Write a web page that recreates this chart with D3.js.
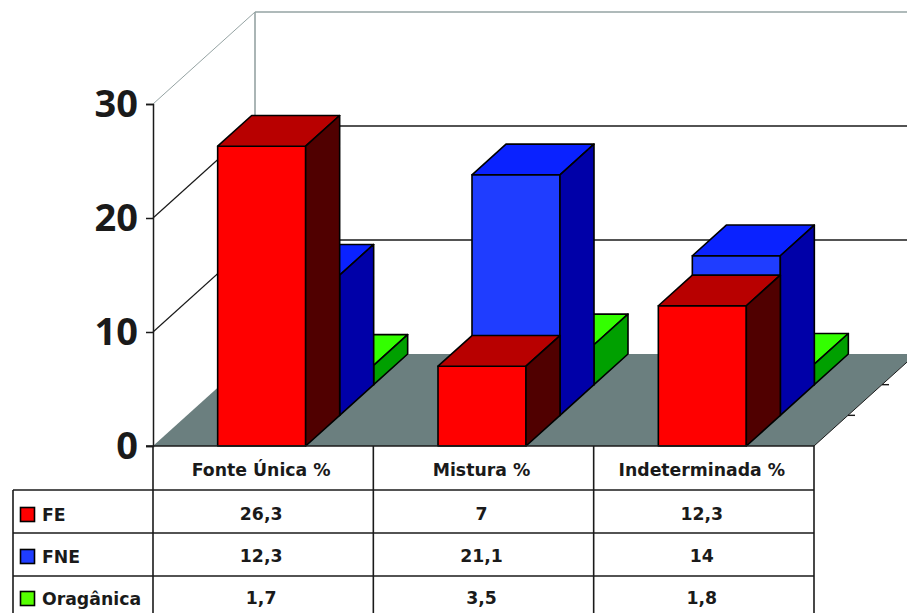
<!DOCTYPE html>
<html>
<head>
<meta charset="utf-8">
<script src="https://cdn.jsdelivr.net/npm/d3@7/dist/d3.min.js"></script>
<style>
html,body{margin:0;padding:0;background:#fff;overflow:hidden}
svg{display:block}
text{font-family:"DejaVu Sans",sans-serif;font-weight:700;fill:#1a1a1a}
</style>
</head>
<body>
<svg id="chart" width="907" height="613"></svg>
<script>
const categories = ["Fonte Única %", "Mistura %", "Indeterminada %"];
const seriesNames = ["FE", "FNE", "Oragânica"];
const feValues = [26.3, 7, 12.3];
const fneValues = [12.3, 21.1, 14];
const organicValues = [1.7, 3.5, 1.8];
const valueLabels = [["26,3", "7", "12,3"], ["12,3", "21,1", "14"], ["1,7", "3,5", "1,8"]];
const axisTicks = [0, 10, 20, 30];
const seriesValues = [feValues, fneValues, organicValues];
const palette = [
  {front: "#ff0000", top: "#b80000", side: "#500000", key: "#ff0000"},
  {front: "#1f3dff", top: "#0a22ff", side: "#0000a8", key: "#1f3dff"},
  {front: "#33ff00", top: "#33ff00", side: "#00a000", key: "#55ff00"}
];

const svg = d3.select("#chart");
const plotLeft = 153, plotRight = 814, baseY = 446, topY = 104, barWidth = 88;
const x = d3.scaleBand().domain(categories).range([plotLeft, plotRight]);
const y = d3.scaleLinear().domain([0, 30]).range([baseY, topY]);
// Oblique projection of the series axis: every series row steps back and up.
const depthX = d3.scaleLinear().domain([0, 3]).range([0, 102]);
const depthY = d3.scaleLinear().domain([0, 3]).range([0, -92]);
const poly = pts => pts.map(p => p.join(",")).join(" ");
const project = (px, value, row) => [px + depthX(row), y(value) + depthY(row)];

// Walls and gridlines
const walls = svg.append("g").attr("fill", "none");
axisTicks.slice(1).forEach(t => {
  const a = project(plotLeft, t, 0), b = project(plotLeft, t, 3);
  const stroke = t === 30 ? "#95a3a3" : "#1a1a1a";
  const w = t === 30 ? 1.6 : 1.4;
  walls.append("line").attr("x1", a[0]).attr("y1", a[1]).attr("x2", b[0]).attr("y2", b[1])
    .attr("stroke", stroke).attr("stroke-width", t === 30 ? 1 : 1.2);
  walls.append("line").attr("x1", b[0]).attr("y1", b[1]).attr("x2", plotRight + depthX(3)).attr("y2", b[1])
    .attr("stroke", stroke).attr("stroke-width", w);
});
const backBase = project(plotLeft, 0, 3), backTop = project(plotLeft, 30, 3);
walls.append("line").attr("x1", backBase[0]).attr("y1", backBase[1]).attr("x2", backTop[0]).attr("y2", backTop[1])
  .attr("stroke", "#95a3a3").attr("stroke-width", 1.6);

// Floor
svg.append("polygon")
  .attr("points", poly([project(plotLeft, 0, 0), project(plotRight, 0, 0), project(plotRight, 0, 3), project(plotLeft, 0, 3)]))
  .attr("fill", "#6b7f7f");

// Right-hand floor edge with the series-axis ticks
const edgeA = project(plotRight, 0, 0), edgeB = project(plotRight, 0, 3);
svg.append("line").attr("x1", edgeA[0]).attr("y1", edgeA[1]).attr("x2", edgeB[0]).attr("y2", edgeB[1])
  .attr("stroke", "#1a1a1a").attr("stroke-width", 1);
[1, 2].forEach(r => {
  const p = project(plotRight, 0, r);
  svg.append("line").attr("x1", p[0]).attr("y1", p[1]).attr("x2", p[0] + 7).attr("y2", p[1])
    .attr("stroke", "#1a1a1a").attr("stroke-width", 1.4);
});

// Bars, drawn from the back row forward so nearer ones overlap
const bars = svg.append("g").attr("stroke", "#000").attr("stroke-width", 1.6).attr("stroke-linejoin", "round");
d3.range(2, -1, -1).forEach(row => {
  categories.forEach((c, i) => {
    const v = seriesValues[row][i], col = palette[row];
    const l = x(c) + (x.bandwidth() - barWidth) / 2 - 1.5, r = l + barWidth;
    bars.append("polygon").attr("fill", col.front)
      .attr("points", poly([project(l, 0, row), project(r, 0, row), project(r, v, row), project(l, v, row)]));
    bars.append("polygon").attr("fill", col.top)
      .attr("points", poly([project(l, v, row), project(r, v, row), project(r, v, row + 1), project(l, v, row + 1)]));
    bars.append("polygon").attr("fill", col.side)
      .attr("points", poly([project(r, 0, row), project(r, 0, row + 1), project(r, v, row + 1), project(r, v, row)]));
  });
});

// Value axis
const axis = d3.axisLeft(y).tickValues(axisTicks).tickSize(7).tickPadding(8);
const axisG = svg.append("g").attr("transform", `translate(${plotLeft},0)`).call(axis);
axisG.selectAll("path,line").attr("stroke", "#1a1a1a").attr("stroke-width", 1.5);
axisG.selectAll("text").style("font-family", '"Noto Sans",sans-serif').style("font-weight", 700)
  .style("font-size", "38px").attr("fill", "#1a1a1a");

// Data table under the plot
const rowLines = [446, 490, 533, 576];
const rowCenters = [470, 514, 556, 598];
const legendLeft = 13;
const tableFont = "17.3px";
const table = svg.append("g").attr("stroke", "#1a1a1a").attr("stroke-width", 1.6);
rowLines.forEach((ly, i) => table.append("line")
  .attr("x1", i === 0 ? plotLeft - 7 : legendLeft).attr("x2", plotRight).attr("y1", ly).attr("y2", ly));
table.append("line").attr("x1", legendLeft).attr("x2", legendLeft).attr("y1", 490).attr("y2", 613);
[...categories.map(c => x(c)), plotRight].forEach(cx => table.append("line")
  .attr("x1", cx).attr("x2", cx).attr("y1", 446).attr("y2", 613));

const cellCenter = c => x(c) + x.bandwidth() / 2 - 2;
categories.forEach((c, i) => {
  svg.append("text").attr("x", cellCenter(c)).attr("y", rowCenters[0]).attr("dy", "0.36em")
    .attr("text-anchor", "middle").style("font-size", tableFont).text(c);
  valueLabels.forEach((labels, row) => {
    svg.append("text").attr("x", cellCenter(c)).attr("y", rowCenters[row + 1]).attr("dy", "0.36em")
      .attr("text-anchor", "middle").style("font-size", tableFont).text(labels[i]);
  });
});
seriesNames.forEach((name, row) => {
  const cy = rowCenters[row + 1] + 1;
  svg.append("rect").attr("x", 20.5).attr("y", cy - 7.5).attr("width", 14).attr("height", 14)
    .attr("fill", palette[row].key).attr("stroke", "#000").attr("stroke-width", 1.6);
  svg.append("text").attr("x", 42).attr("y", cy).attr("dy", "0.36em").style("font-size", tableFont).text(name);
});
</script>
</body>
</html>
